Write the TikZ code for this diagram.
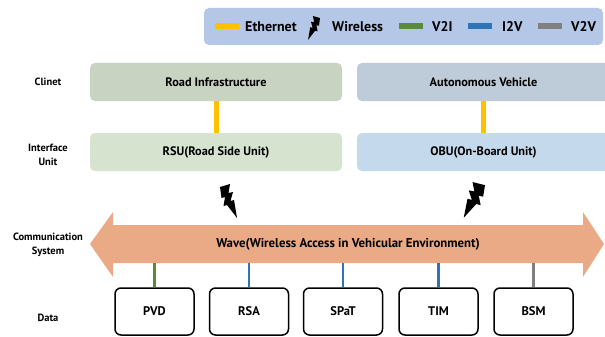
\documentclass[tikz,border=0pt]{standalone}
\usepackage{fontspec}
\setmainfont{PT Sans}
\definecolor{legbg}{HTML}{B4C7E7}
\definecolor{roadc}{HTML}{C9D3C2}
\definecolor{autoc}{HTML}{BECBD8}
\definecolor{rsuc}{HTML}{D5E3CF}
\definecolor{obuc}{HTML}{C5D9EC}
\definecolor{wavec}{HTML}{EBAA86}
\definecolor{ethc}{HTML}{FFC000}
\definecolor{vtwoi}{HTML}{5A8A3C}
\definecolor{itwov}{HTML}{2E75B6}
\definecolor{vtwov}{HTML}{808080}
\begin{document}
\begin{tikzpicture}[x=1pt,y=-1pt,
  box/.style={rounded corners=5pt, minimum height=38pt, inner sep=0pt, font=\bfseries\fontsize{12.3}{14}\selectfont},
  databox/.style={draw=black, line width=1.5pt, rounded corners=6pt, minimum width=79pt, minimum height=47pt, inner sep=0pt, font=\bfseries\fontsize{12.5}{14}\selectfont},
  lab/.style={align=center, font=\bfseries\fontsize{10.5}{14}\selectfont},
  legtext/.style={anchor=west, inner sep=0pt, font=\bfseries\fontsize{14}{16}\selectfont},
  legline/.style={line width=6pt},
  dataline/.style={line width=2.4pt},
  ethline/.style={ethc, line width=5pt},
  bolt/.pic={\fill[black] (0,3) -- (10,0) -- (8.5,9) -- (13,8) -- (10.5,17) -- (14,16) -- (17,34) -- (7,21) -- (3.5,22) -- (5,13) -- (1.5,14) -- cycle;}
]
\clip (0,0) rectangle (605,337);
\fill[white] (0,0) rectangle (605,337);

% legend
\node[fill=legbg, rounded corners=5pt, minimum width=399pt, minimum height=37pt, inner sep=0pt] (legend) at (403.5,26.5) {};
\coordinate (e1) at (215,26); \coordinate (e2) at (239,26);
\draw[ethc, legline] (e1) -- (e2);
\node[legtext] (leth) at (245,27) {Ethernet};
\pic[xscale=-0.7, yscale=0.7] at (320,16) {bolt};
\node[legtext] (lwl) at (332,27) {Wireless};
\coordinate (g1) at (399,26); \coordinate (g2) at (423,26);
\draw[vtwoi, legline] (g1) -- (g2);
\node[legtext] (lv2i) at (432,27) {V2I};
\coordinate (b1) at (468,26); \coordinate (b2) at (492,26);
\draw[itwov, legline] (b1) -- (b2);
\node[legtext] (li2v) at (502,27) {I2V};
\coordinate (h1) at (538,26); \coordinate (h2) at (562,26);
\draw[vtwov, legline] (h1) -- (h2);
\node[legtext] (lv2v) at (571,27) {V2V};

% row labels
\node[lab] (lclient) at (48,82) {Clinet};
\node[lab] (liface) at (48,155) {Interface\\Unit};
\node[lab] (lcomm) at (48,245) {Communication\\System};
\node[lab] (ldata) at (48,318) {Data};

% boxes
\node[box, fill=roadc, minimum width=252pt] (road) at (216,82) {Road Infrastructure};
\node[box, fill=autoc, minimum width=253pt] (auto) at (483.5,82) {Autonomous Vehicle};
\node[box, fill=rsuc, minimum width=252pt] (rsu) at (216,152) {RSU(Road Side Unit)};
\node[box, fill=obuc, minimum width=253pt] (obu) at (483.5,152) {OBU(On-Board Unit)};
\draw[ethline] (road) -- (rsu);
\draw[ethline] (auto) -- (obu);

% bolts
\pic at (220,184) {bolt};
\pic[xscale=-1.25, yscale=1.05] at (485,182) {bolt};

% wave arrow
\fill[wavec] (90,244) -- (113,212) -- (113,225) -- (583,225) -- (583,212) -- (604,244) -- (583,277) -- (583,263) -- (113,263) -- (113,277) -- cycle;
\node[minimum width=470pt, minimum height=38pt, inner sep=0pt, font=\bfseries\fontsize{12.8}{14}\selectfont] (wave) at (348,244) {\raisebox{2pt}{Wave(Wireless Access in Vehicular Environment)}};

% data
\node[databox] (pvd) at (154.5,311.5) {PVD};
\node[databox] (rsa) at (249,311.5) {RSA};
\node[databox] (spat) at (343,311.5) {SPaT};
\node[databox] (tim) at (438.5,311.5) {TIM};
\node[databox] (bsm) at (533.5,311.5) {BSM};
\draw[vtwoi, dataline] (pvd.north) -- (pvd.north |- wave.south);
\draw[itwov, dataline] (rsa.north) -- (rsa.north |- wave.south);
\draw[itwov, dataline] (spat.north) -- (spat.north |- wave.south);
\draw[itwov, dataline] (tim.north) -- (tim.north |- wave.south);
\draw[vtwov, dataline] (bsm.north) -- (bsm.north |- wave.south);
\end{tikzpicture}
\end{document}
